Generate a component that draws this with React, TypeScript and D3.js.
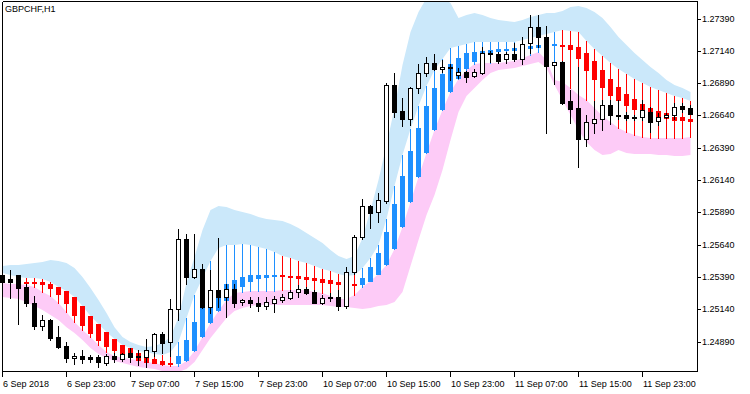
import React from 'react'
import * as d3 from 'd3'

const symbolName = 'GBPCHF,H1'

// one label every 8 bars, starting at the first bar
const barsPerLabel = 8
const timeLabels = [
  '6 Sep 2018', '6 Sep 23:00', '7 Sep 07:00', '7 Sep 15:00', '7 Sep 23:00',
  '10 Sep 07:00', '10 Sep 15:00', '10 Sep 23:00', '11 Sep 07:00', '11 Sep 15:00', '11 Sep 23:00',
]

const priceTicks = [
  1.2739, 1.2714, 1.2689, 1.2664, 1.2639, 1.2614, 1.2589, 1.2564, 1.2539, 1.2514, 1.2489,
]

// H1 candles
const open = [
  1.25405, 1.25374, 1.25405, 1.25312, 1.25188, 1.25010, 1.25056, 1.24925, 1.24855, 1.24762,
  1.24777, 1.24770, 1.24770, 1.24723, 1.24777, 1.24754, 1.24801, 1.24777, 1.24770, 1.24816,
  1.24948, 1.24886, 1.25141, 1.25683, 1.25389, 1.25451, 1.25157, 1.25289, 1.25235, 1.25296,
  1.25196, 1.25211, 1.25188, 1.25165, 1.25188, 1.25211, 1.25227, 1.25273, 1.25296, 1.25273,
  1.25188, 1.25235, 1.25235, 1.25165, 1.25428, 1.25699, 1.25939, 1.25892, 1.25977, 1.26875,
  1.26674, 1.26612, 1.26852, 1.26968, 1.27045, 1.26999, 1.27014, 1.26953, 1.26976, 1.26945,
  1.26968, 1.27123, 1.27115, 1.27076, 1.27115, 1.27076, 1.27200, 1.27324, 1.27247, 1.27030,
  1.27053, 1.26751, 1.26697, 1.26457, 1.26581, 1.26612, 1.26720, 1.26643, 1.26643, 1.26627,
  1.26627, 1.26666, 1.26596, 1.26627, 1.26643, 1.26713, 1.26697,
]
const high = [
  1.25420, 1.25443, 1.25405, 1.25335, 1.25242, 1.25095, 1.25064, 1.25010, 1.24886, 1.24801,
  1.24824, 1.24785, 1.24785, 1.24793, 1.24801, 1.24801, 1.24839, 1.24824, 1.24909, 1.24956,
  1.24963, 1.25219, 1.25760, 1.25722, 1.25722, 1.25490, 1.25443, 1.25691, 1.25335, 1.25335,
  1.25219, 1.25235, 1.25235, 1.25235, 1.25242, 1.25258, 1.25289, 1.25327, 1.25312, 1.25289,
  1.25250, 1.25266, 1.25289, 1.25466, 1.25714, 1.25993, 1.25946, 1.26039, 1.26891, 1.26968,
  1.26774, 1.26860, 1.27038, 1.27092, 1.27115, 1.27069, 1.27038, 1.27007, 1.26983, 1.26999,
  1.27169, 1.27138, 1.27131, 1.27131, 1.27200, 1.27247, 1.27417, 1.27417, 1.27332, 1.27053,
  1.27061, 1.26836, 1.27014, 1.26643, 1.26751, 1.26759, 1.26759, 1.26759, 1.26666, 1.26643,
  1.26759, 1.26705, 1.26658, 1.26658, 1.26736, 1.26736, 1.26720,
]
const low = [
  1.25335, 1.25227, 1.25025, 1.25165, 1.24986, 1.24979, 1.24901, 1.24839, 1.24731, 1.24716,
  1.24723, 1.24731, 1.24692, 1.24708, 1.24731, 1.24739, 1.24731, 1.24708, 1.24692, 1.24777,
  1.24801, 1.24777, 1.25056, 1.25335, 1.25381, 1.25149, 1.25110, 1.25157, 1.25079, 1.25157,
  1.25172, 1.25157, 1.25126, 1.25141, 1.25118, 1.25196, 1.25219, 1.25235, 1.25258, 1.25188,
  1.25180, 1.25203, 1.25134, 1.25149, 1.25412, 1.25683, 1.25768, 1.25815, 1.25962, 1.26627,
  1.26558, 1.26566, 1.26813, 1.26945, 1.26991, 1.26976, 1.26914, 1.26929, 1.26898, 1.26937,
  1.26960, 1.27053, 1.27045, 1.27045, 1.27061, 1.27038, 1.27123, 1.27169, 1.26504, 1.26883,
  1.26728, 1.26581, 1.26240, 1.26403, 1.26504, 1.26527, 1.26573, 1.26612, 1.26604, 1.26604,
  1.26604, 1.26511, 1.26566, 1.26620, 1.26612, 1.26666, 1.26651,
]
const close = [
  1.25350, 1.25350, 1.25304, 1.25188, 1.25010, 1.25056, 1.24917, 1.24847, 1.24762, 1.24777,
  1.24754, 1.24754, 1.24731, 1.24777, 1.24754, 1.24793, 1.24770, 1.24770, 1.24824, 1.24948,
  1.24878, 1.25141, 1.25683, 1.25389, 1.25451, 1.25157, 1.25289, 1.25235, 1.25296, 1.25188,
  1.25211, 1.25188, 1.25165, 1.25196, 1.25219, 1.25235, 1.25273, 1.25296, 1.25266, 1.25188,
  1.25227, 1.25227, 1.25165, 1.25428, 1.25699, 1.25939, 1.25884, 1.25985, 1.26875, 1.26666,
  1.26612, 1.26852, 1.26968, 1.27045, 1.26999, 1.27014, 1.27007, 1.26976, 1.26937, 1.26976,
  1.27123, 1.27115, 1.27061, 1.27115, 1.27076, 1.27192, 1.27324, 1.27247, 1.27022, 1.27053,
  1.26736, 1.26689, 1.26457, 1.26589, 1.26612, 1.26720, 1.26643, 1.26635, 1.26620, 1.26620,
  1.26682, 1.26589, 1.26627, 1.26643, 1.26705, 1.26689, 1.26651,
]

// channel: blue fill between upperOuter/upperInner, pink between lowerInner/lowerOuter
const upperOuter = [
  1.25474, 1.25482, 1.25482, 1.25490, 1.25497, 1.25505, 1.25521, 1.25513, 1.25497, 1.25459,
  1.25389, 1.25304, 1.25211, 1.25110, 1.25001, 1.24925, 1.24886, 1.24863, 1.24847, 1.24855,
  1.24878, 1.24925, 1.25079, 1.25343, 1.25544, 1.25753, 1.25908, 1.25939, 1.25931, 1.25908,
  1.25892, 1.25877, 1.25853, 1.25838, 1.25830, 1.25823, 1.25799, 1.25768, 1.25730, 1.25691,
  1.25652, 1.25598, 1.25551, 1.25528, 1.25551, 1.25691, 1.25908, 1.26140, 1.26411, 1.26697,
  1.27030, 1.27285, 1.27440, 1.27548, 1.27556, 1.27548, 1.27510, 1.27394, 1.27417, 1.27432,
  1.27417, 1.27394, 1.27378, 1.27370, 1.27363, 1.27378, 1.27401, 1.27417, 1.27432, 1.27432,
  1.27448, 1.27479, 1.27487, 1.27471, 1.27440, 1.27394, 1.27324, 1.27247, 1.27185, 1.27123,
  1.27069, 1.27014, 1.26968, 1.26914, 1.26875, 1.26852, 1.26821,
]
const upperInner = [
  1.25420, 1.25405, 1.25389, 1.25381, 1.25381, 1.25374, 1.25350, 1.25312, 1.25281, 1.25235,
  1.25165, 1.25087, 1.25025, 1.24963, 1.24909, 1.24863, 1.24839, 1.24816, 1.24808, 1.24793,
  1.24785, 1.24808, 1.24886, 1.25072, 1.25250, 1.25381, 1.25513, 1.25613, 1.25637, 1.25637,
  1.25644, 1.25637, 1.25621, 1.25606, 1.25583, 1.25551, 1.25536, 1.25513, 1.25497, 1.25474,
  1.25451, 1.25436, 1.25412, 1.25397, 1.25405, 1.25459, 1.25536, 1.25637, 1.25838, 1.26093,
  1.26333, 1.26535, 1.26713, 1.26867, 1.26991, 1.27076, 1.27161, 1.27177, 1.27192, 1.27208,
  1.27208, 1.27208, 1.27208, 1.27208, 1.27208, 1.27223, 1.27239, 1.27254, 1.27270, 1.27285,
  1.27301, 1.27293, 1.27285, 1.27216, 1.27154, 1.27100, 1.27045, 1.26999, 1.26960, 1.26922,
  1.26891, 1.26860, 1.26836, 1.26813, 1.26790, 1.26774, 1.26751,
]
const lowerInner = [
  1.25343, 1.25335, 1.25335, 1.25327, 1.25312, 1.25273, 1.25242, 1.25188, 1.25118, 1.25041,
  1.24979, 1.24925, 1.24863, 1.24808, 1.24777, 1.24762, 1.24754, 1.24746, 1.24731, 1.24723,
  1.24708, 1.24700, 1.24700, 1.24739, 1.24816, 1.24925, 1.25033, 1.25126, 1.25211, 1.25266,
  1.25273, 1.25281, 1.25281, 1.25281, 1.25281, 1.25289, 1.25289, 1.25289, 1.25289, 1.25273,
  1.25266, 1.25242, 1.25219, 1.25219, 1.25250, 1.25312, 1.25358, 1.25412, 1.25482, 1.25606,
  1.25776, 1.25970, 1.26163, 1.26349, 1.26527, 1.26682, 1.26821, 1.26922, 1.26991, 1.27038,
  1.27045, 1.27045, 1.27045, 1.27053, 1.27061, 1.27084, 1.27107, 1.27131, 1.27069, 1.26914,
  1.26898, 1.26852, 1.26798, 1.26759, 1.26697, 1.26635, 1.26589, 1.26542, 1.26511, 1.26488,
  1.26473, 1.26465, 1.26465, 1.26465, 1.26465, 1.26465, 1.26473,
]
const lowerOuter = [
  1.25235, 1.25227, 1.25219, 1.25196, 1.25165, 1.25134, 1.25095, 1.25056, 1.25001, 1.24956,
  1.24901, 1.24839, 1.24793, 1.24762, 1.24739, 1.24723, 1.24708, 1.24692, 1.24685, 1.24677,
  1.24661, 1.24654, 1.24654, 1.24677, 1.24731, 1.24824, 1.24917, 1.24994, 1.25072, 1.25126,
  1.25149, 1.25165, 1.25172, 1.25172, 1.25172, 1.25172, 1.25172, 1.25172, 1.25172, 1.25172,
  1.25172, 1.25165, 1.25157, 1.25157, 1.25149, 1.25141, 1.25149, 1.25165, 1.25172, 1.25196,
  1.25273, 1.25474, 1.25675, 1.25869, 1.26024, 1.26217, 1.26449, 1.26666, 1.26790, 1.26852,
  1.26914, 1.26968, 1.26991, 1.26999, 1.27007, 1.27022, 1.27038, 1.27053, 1.27007, 1.26875,
  1.26759, 1.26643, 1.26527, 1.26434, 1.26372, 1.26333, 1.26341, 1.26372, 1.26349, 1.26341,
  1.26341, 1.26341, 1.26333, 1.26333, 1.26326, 1.26326, 1.26333,
]

// coloured signal bars (body), wick runs across the inner channel
const sigOpen = [
  1.25374, 1.25366, 1.25358, 1.25350, 1.25350, 1.25350, 1.25335, 1.25312, 1.25281, 1.25235,
  1.25165, 1.25087, 1.25025, 1.24963, 1.24909, 1.24863, 1.24839, 1.24801, 1.24762, 1.24754,
  1.24739, 1.24723, 1.24716, 1.24739, 1.24816, 1.24925, 1.25033, 1.25126, 1.25203, 1.25289,
  1.25312, 1.25350, 1.25374, 1.25381, 1.25389, 1.25405, 1.25397, 1.25397, 1.25389, 1.25381,
  1.25374, 1.25366, 1.25350, 1.25343, 1.25335, 1.25327, 1.25350, 1.25405, 1.25482, 1.25606,
  1.25776, 1.25970, 1.26163, 1.26349, 1.26527, 1.26682, 1.26821, 1.26922, 1.26999, 1.27053,
  1.27115, 1.27115, 1.27131, 1.27138, 1.27138, 1.27146, 1.27154, 1.27161, 1.27169, 1.27177,
  1.27185, 1.27185, 1.27169, 1.27123, 1.27061, 1.26991, 1.26922, 1.26860, 1.26805, 1.26767,
  1.26728, 1.26697, 1.26674, 1.26658, 1.26627, 1.26627, 1.26612,
]
const sigClose = [
  1.25350, 1.25350, 1.25343, 1.25343, 1.25335, 1.25327, 1.25296, 1.25250, 1.25180, 1.25087,
  1.25010, 1.24948, 1.24894, 1.24847, 1.24816, 1.24793, 1.24770, 1.24739, 1.24723, 1.24716,
  1.24708, 1.24708, 1.24777, 1.24901, 1.25041, 1.25149, 1.25157, 1.25227, 1.25335, 1.25366,
  1.25389, 1.25405, 1.25405, 1.25405, 1.25405, 1.25389, 1.25381, 1.25374, 1.25366, 1.25358,
  1.25343, 1.25335, 1.25327, 1.25320, 1.25320, 1.25381, 1.25466, 1.25575, 1.25737, 1.25954,
  1.26171, 1.26364, 1.26542, 1.26713, 1.26852, 1.26960, 1.27038, 1.27084, 1.27123, 1.27131,
  1.27138, 1.27146, 1.27154, 1.27154, 1.27161, 1.27169, 1.27177, 1.27185, 1.27185, 1.27192,
  1.27169, 1.27146, 1.27076, 1.26983, 1.26914, 1.26852, 1.26790, 1.26751, 1.26713, 1.26682,
  1.26651, 1.26627, 1.26627, 1.26612, 1.26596, 1.26596, 1.26589,
]

const W = 750
const H = 394
const frameRight = 697
const frameBottom = 371
const font = '"Liberation Sans", Arial, sans-serif'

export default function App() {
  const n = open.length
  const x = d3.scaleLinear().domain([0, n - 1]).range([2.5, 2.5 + 8 * (n - 1)])
  const y = d3.scaleLinear().domain([1.2489, 1.2739]).range([341.5, 18.5])
  const py = (v: number) => Math.round(y(v))
  const idx = d3.range(n)

  const upperArea = d3.area<number>()
    .x(i => x(i))
    .y0(i => y(upperInner[i]))
    .y1(i => y(upperOuter[i]))
  const lowerArea = d3.area<number>()
    .x(i => x(i))
    .y0(i => y(lowerOuter[i]))
    .y1(i => y(lowerInner[i]))

  return (
    <svg width={W} height={H} style={{ position: 'absolute', left: 0, top: 0, background: '#fff' }}>
      <defs>
        <clipPath id="plot">
          <rect x={0} y={2} width={frameRight} height={frameBottom - 2} />
        </clipPath>
      </defs>
      <rect x={0} y={0} width={W} height={H} fill="#fff" />
      <g clipPath="url(#plot)">
        <path d={upperArea(idx) || ''} fill="#cbe8fa" />
        <path d={lowerArea(idx) || ''} fill="#fdcbf7" />

        {/* signal bars */}
        <g shapeRendering="crispEdges">
          {idx.map(i => {
            const cx = Math.round(x(i) - 0.5)
            const col = sigClose[i] >= sigOpen[i] ? '#1e90ff' : '#ff0000'
            const t = py(Math.max(sigOpen[i], sigClose[i]))
            const b = Math.max(py(Math.min(sigOpen[i], sigClose[i])), t + 2)
            return (
              <g key={i}>
                <rect x={cx} y={py(upperInner[i])} width={1} height={py(lowerInner[i]) - py(upperInner[i]) + 1} fill={col} />
                <rect x={cx - 2} y={t} width={5} height={b - t} fill={col} />
              </g>
            )
          })}
        </g>

        {/* candles */}
        <g shapeRendering="crispEdges">
          {idx.map(i => {
            const cx = Math.round(x(i) - 0.5)
            const t = py(Math.max(open[i], close[i]))
            const b = py(Math.min(open[i], close[i]))
            const bull = close[i] > open[i]
            let body
            if (b - t < 1) {
              body = <rect x={cx - 2} y={t} width={5} height={1} fill="#000" />
            } else if (bull) {
              body = <rect x={cx - 1.5} y={t + 0.5} width={4} height={b - t} fill="#fff" stroke="#000" strokeWidth={1} />
            } else {
              body = <rect x={cx - 2} y={t} width={5} height={b - t + 1} fill="#000" />
            }
            return (
              <g key={i}>
                <rect x={cx} y={py(high[i])} width={1} height={py(low[i]) - py(high[i]) + 1} fill="#000" />
                {body}
              </g>
            )
          })}
        </g>
      </g>

      {/* frame */}
      <g shapeRendering="crispEdges" stroke="#000" strokeWidth={1} fill="none">
        <line x1={2.5} y1={1.5} x2={frameRight + 0.5} y2={1.5} />
        <line x1={2.5} y1={1.5} x2={2.5} y2={frameBottom + 0.5} />
        <line x1={frameRight + 0.5} y1={1.5} x2={frameRight + 0.5} y2={frameBottom + 0.5} />
        <line x1={2.5} y1={frameBottom + 0.5} x2={frameRight + 0.5} y2={frameBottom + 0.5} />
      </g>

      <text x={5} y={12} fontFamily={font} fontSize={9} fill="#000">{symbolName}</text>

      {/* price axis */}
      {priceTicks.map(p => {
        const ty = py(p)
        return (
          <g key={p}>
            <line x1={frameRight + 1} x2={frameRight + 4} y1={ty + 0.5} y2={ty + 0.5} stroke="#000" shapeRendering="crispEdges" />
            <text x={702} y={ty + 0.5} dominantBaseline="middle" fontFamily={font} fontSize={9} fill="#000">{p.toFixed(5)}</text>
          </g>
        )
      })}

      {/* time axis */}
      {timeLabels.map((lab, k) => {
        const cx = Math.round(x(k * barsPerLabel) - 0.5)
        return (
          <g key={lab}>
            <line x1={cx + 0.5} x2={cx + 0.5} y1={frameBottom + 1} y2={frameBottom + 6} stroke="#000" shapeRendering="crispEdges" />
            <text x={cx + 1} y={387} fontFamily={font} fontSize={9} fill="#000">{lab}</text>
          </g>
        )
      })}
    </svg>
  )
}
